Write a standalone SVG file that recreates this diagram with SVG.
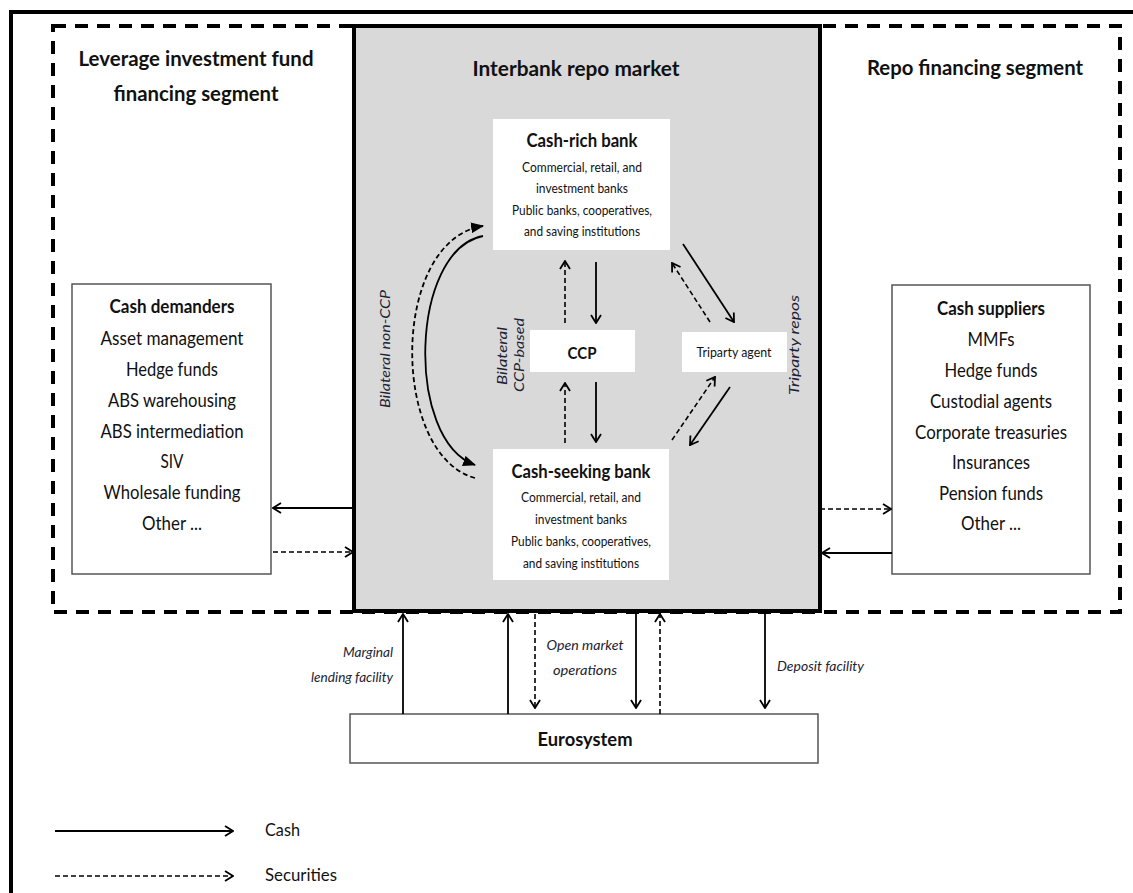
<svg xmlns="http://www.w3.org/2000/svg" width="1133" height="893" viewBox="0 0 1133 893">
  <defs>
    <marker id="open" viewBox="0 0 10 12" refX="9" refY="6" markerWidth="10" markerHeight="12" markerUnits="userSpaceOnUse" orient="auto">
      <path d="M1,1 L9,6 L1,11" fill="none" stroke="#000" stroke-width="1.8"/>
    </marker>
    <marker id="tri" viewBox="0 0 12 10" refX="11" refY="5" markerWidth="13" markerHeight="11" markerUnits="userSpaceOnUse" orient="auto">
      <path d="M0,0 L12,5 L0,10 Z" fill="#000"/>
    </marker>
  </defs>
  <style>
    .t{font-family:Lato,"Liberation Sans",sans-serif;fill:#111}
    .b{font-weight:bold}
    .i{font-style:italic;fill:#1c2233}
    .c{text-anchor:middle}
    .e{text-anchor:end}
    .box{fill:#fff;stroke:#555;stroke-width:1.5}
    .wb{fill:#fff}
    .cash{fill:none;stroke:#000;stroke-width:1.8;marker-end:url(#open)}
    .sec{fill:none;stroke:#000;stroke-width:1.6;stroke-dasharray:5 3;marker-end:url(#open)}
    .arc{fill:none;stroke:#000;stroke-width:1.8;marker-end:url(#tri)}
  </style>

  <rect width="1133" height="893" fill="#fff"/>

  <!-- outer frame -->
  <g id="frame">
    <path d="M11,893 V12 H1133" fill="none" stroke="#000" stroke-width="4"/>
  </g>

  <!-- financing segments (dashed) -->
  <g id="segments">
    <rect x="53" y="26" width="1067" height="586" fill="none" stroke="#000" stroke-width="4" stroke-dasharray="13 9"/>
    <text class="t b c" x="196" y="66" font-size="20.5" textLength="235" lengthAdjust="spacingAndGlyphs">Leverage investment fund</text>
    <text class="t b c" x="196" y="101" font-size="20.5" textLength="165" lengthAdjust="spacingAndGlyphs">financing segment</text>
    <text class="t b c" x="975" y="75" font-size="20.5" textLength="216" lengthAdjust="spacingAndGlyphs">Repo financing segment</text>
  </g>

  <!-- interbank repo market -->
  <g id="interbank">
    <rect x="354" y="26" width="466" height="585" fill="#d9d9d9" stroke="#000" stroke-width="4"/>
    <text class="t b c" x="576" y="76" font-size="20.5" textLength="207" lengthAdjust="spacingAndGlyphs">Interbank repo market</text>
    <text class="t i c" transform="translate(390,349) rotate(-90)" font-size="14" textLength="118" lengthAdjust="spacingAndGlyphs">Bilateral non-CCP</text>
    <text class="t i c" transform="translate(507,356) rotate(-90)" font-size="14" textLength="58" lengthAdjust="spacingAndGlyphs">Bilateral</text>
    <text class="t i c" transform="translate(524,355) rotate(-90)" font-size="14" textLength="74" lengthAdjust="spacingAndGlyphs">CCP-based</text>
    <text class="t i c" transform="translate(799,345) rotate(-90)" font-size="14" textLength="100" lengthAdjust="spacingAndGlyphs">Triparty repos</text>
  </g>

  <g id="cash-rich-bank">
    <rect class="wb" x="493" y="119" width="177" height="131"/>
    <text class="t b c" x="582" y="147" font-size="18" textLength="111" lengthAdjust="spacingAndGlyphs">Cash-rich bank</text>
    <text class="t c" x="582" y="172" font-size="13.5" textLength="120" lengthAdjust="spacingAndGlyphs">Commercial, retail, and</text>
    <text class="t c" x="582" y="193" font-size="13.5" textLength="92" lengthAdjust="spacingAndGlyphs">investment banks</text>
    <text class="t c" x="582" y="215" font-size="13.5" textLength="140" lengthAdjust="spacingAndGlyphs">Public banks, cooperatives,</text>
    <text class="t c" x="582" y="236" font-size="13.5" textLength="116" lengthAdjust="spacingAndGlyphs">and saving institutions</text>
  </g>

  <g id="cash-seeking-bank">
    <rect class="wb" x="493" y="449" width="176" height="131"/>
    <text class="t b c" x="581" y="478" font-size="18" textLength="139" lengthAdjust="spacingAndGlyphs">Cash-seeking bank</text>
    <text class="t c" x="581" y="502" font-size="13.5" textLength="120" lengthAdjust="spacingAndGlyphs">Commercial, retail, and</text>
    <text class="t c" x="581" y="524" font-size="13.5" textLength="92" lengthAdjust="spacingAndGlyphs">investment banks</text>
    <text class="t c" x="581" y="546" font-size="13.5" textLength="140" lengthAdjust="spacingAndGlyphs">Public banks, cooperatives,</text>
    <text class="t c" x="581" y="568" font-size="13.5" textLength="116" lengthAdjust="spacingAndGlyphs">and saving institutions</text>
  </g>

  <g id="ccp">
    <rect class="wb" x="530" y="330" width="105" height="42"/>
    <text class="t b c" x="582" y="359" font-size="17" textLength="29" lengthAdjust="spacingAndGlyphs">CCP</text>
  </g>

  <g id="triparty-agent">
    <rect class="wb" x="682" y="332" width="105" height="40"/>
    <text class="t c" x="734" y="357" font-size="13" textLength="75" lengthAdjust="spacingAndGlyphs">Triparty agent</text>
  </g>

  <g id="cash-demanders">
    <rect class="box" x="72" y="284" width="199" height="290"/>
    <text class="t b c" x="172" y="313" font-size="18" textLength="125" lengthAdjust="spacingAndGlyphs">Cash demanders</text>
    <text class="t c" x="172" y="345" font-size="19.5" textLength="143" lengthAdjust="spacingAndGlyphs">Asset management</text>
    <text class="t c" x="172" y="376" font-size="19.5" textLength="92" lengthAdjust="spacingAndGlyphs">Hedge funds</text>
    <text class="t c" x="172" y="407" font-size="19.5" textLength="128" lengthAdjust="spacingAndGlyphs">ABS warehousing</text>
    <text class="t c" x="172" y="438" font-size="19.5" textLength="143" lengthAdjust="spacingAndGlyphs">ABS intermediation</text>
    <text class="t c" x="172" y="468" font-size="19.5" textLength="23" lengthAdjust="spacingAndGlyphs">SIV</text>
    <text class="t c" x="172" y="499" font-size="19.5" textLength="137" lengthAdjust="spacingAndGlyphs">Wholesale funding</text>
    <text class="t c" x="172" y="530" font-size="19.5" textLength="60" lengthAdjust="spacingAndGlyphs">Other ...</text>
  </g>

  <g id="cash-suppliers">
    <rect class="box" x="892" y="285" width="198" height="289"/>
    <text class="t b c" x="991" y="315" font-size="18" textLength="108" lengthAdjust="spacingAndGlyphs">Cash suppliers</text>
    <text class="t c" x="991" y="346" font-size="19.5" textLength="47" lengthAdjust="spacingAndGlyphs">MMFs</text>
    <text class="t c" x="991" y="377" font-size="19.5" textLength="93" lengthAdjust="spacingAndGlyphs">Hedge funds</text>
    <text class="t c" x="991" y="408" font-size="19.5" textLength="122" lengthAdjust="spacingAndGlyphs">Custodial agents</text>
    <text class="t c" x="991" y="439" font-size="19.5" textLength="152" lengthAdjust="spacingAndGlyphs">Corporate treasuries</text>
    <text class="t c" x="991" y="469" font-size="19.5" textLength="78" lengthAdjust="spacingAndGlyphs">Insurances</text>
    <text class="t c" x="991" y="500" font-size="19.5" textLength="104" lengthAdjust="spacingAndGlyphs">Pension funds</text>
    <text class="t c" x="991" y="530" font-size="19.5" textLength="60" lengthAdjust="spacingAndGlyphs">Other ...</text>
  </g>

  <g id="eurosystem">
    <rect class="box" x="350" y="714" width="468" height="49"/>
    <text class="t b c" x="585" y="746" font-size="18" textLength="95" lengthAdjust="spacingAndGlyphs">Eurosystem</text>
  </g>

  <!-- facility labels -->
  <g id="facility-labels">
    <text class="t i e" x="393" y="657" font-size="14" textLength="50" lengthAdjust="spacingAndGlyphs">Marginal</text>
    <text class="t i e" x="393" y="682" font-size="14" textLength="82" lengthAdjust="spacingAndGlyphs">lending facility</text>
    <text class="t i c" x="585" y="650" font-size="14" textLength="77" lengthAdjust="spacingAndGlyphs">Open market</text>
    <text class="t i c" x="585" y="675" font-size="14" textLength="64" lengthAdjust="spacingAndGlyphs">operations</text>
    <text class="t i" x="777" y="671" font-size="14" textLength="87" lengthAdjust="spacingAndGlyphs">Deposit facility</text>
  </g>

  <!-- flows of cash (solid) and securities (dashed) -->
  <g id="connectors">
    <path class="cash" d="M596,262 V323"/>
    <path class="sec" d="M565,323 V261"/>
    <path class="cash" d="M596,382 V442"/>
    <path class="sec" d="M565,443 V383"/>
    <path class="cash" d="M683,244 L734,322"/>
    <path class="sec" d="M710,322 L672,263"/>
    <path class="cash" d="M730,387 L690,445"/>
    <path class="sec" d="M672,440 L715,377"/>
    <path class="arc" d="M483,236 C410,250 405,440 475,465"/>
    <path class="arc" stroke-dasharray="5 3" stroke-width="1.6" d="M475,478 C390,455 390,240 483,226"/>
    <path class="cash" d="M354,508 H273"/>
    <path class="sec" d="M273,552 H353"/>
    <path class="sec" d="M820,509 H891"/>
    <path class="cash" d="M892,553 H822"/>
    <path class="cash" d="M403,714 V614"/>
    <path class="cash" d="M508,714 V614"/>
    <path class="sec" d="M535,614 V708"/>
    <path class="cash" d="M636,614 V708"/>
    <path class="sec" d="M660,714 V614"/>
    <path class="cash" d="M765,614 V708"/>
  </g>

  <!-- key -->
  <g id="legend">
    <path class="cash" d="M55,831 H233"/>
    <text class="t" x="265" y="836" font-size="17" textLength="35" lengthAdjust="spacingAndGlyphs">Cash</text>
    <path class="sec" stroke-dasharray="4 2" d="M55,876 H233"/>
    <text class="t" x="265" y="881" font-size="17" textLength="72" lengthAdjust="spacingAndGlyphs">Securities</text>
  </g>
</svg>
